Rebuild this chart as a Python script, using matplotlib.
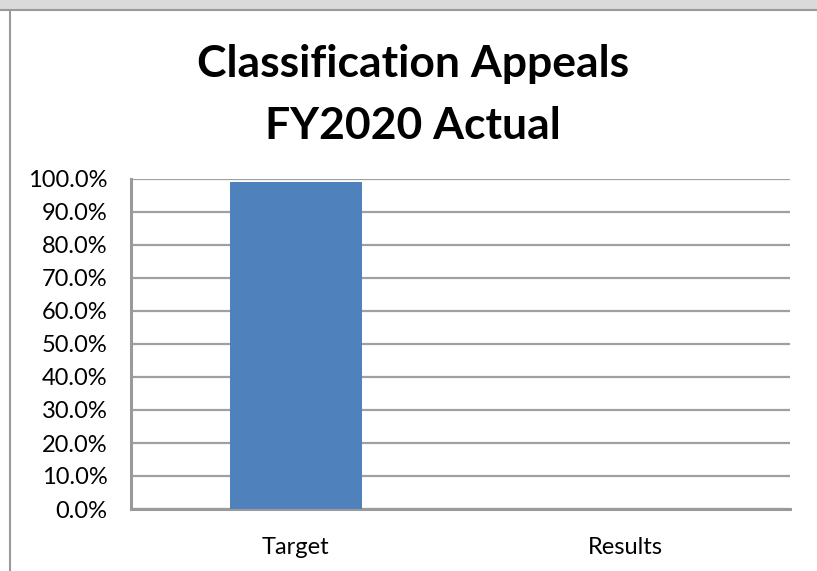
import matplotlib
matplotlib.use("Agg")
import matplotlib.pyplot as plt
from matplotlib.patches import Rectangle
from matplotlib.lines import Line2D
from matplotlib.ticker import FuncFormatter

categories = ["Target", "Results"]
values = [0.99, 0.0]
title = "Classification Appeals\nFY2020 Actual"

plt.rcParams['font.family'] = ['Lato', 'DejaVu Sans']

W, H = 817, 571
fig = plt.figure(figsize=(W / 100, H / 100), dpi=100)

# window chrome: grey band on top, thin border on the left
fig.patches.append(Rectangle((0, 1 - 9 / H), 1, 9 / H, transform=fig.transFigure,
                             facecolor="#dadada", edgecolor="none", zorder=0))
fig.lines.append(Line2D([0, 1], [1 - 9.5 / H] * 2, transform=fig.transFigure,
                        color="#9a9a9a", lw=1.5))
fig.lines.append(Line2D([9.5 / W] * 2, [0, 1 - 9.5 / H], transform=fig.transFigure,
                        color="#9a9a9a", lw=1.5))

left, right, top, bottom = 131, 790, 179, 509
ax = fig.add_axes([left / W, 1 - bottom / H, (right - left) / W, (bottom - top) / H])

x = range(len(categories))
ax.bar(x, values, width=0.4, color="#4f81bd", zorder=3)
ax.set_xlim(-0.5, 1.5)
ax.set_ylim(0, 1.0)
ax.set_yticks([i / 10 for i in range(11)])
ax.yaxis.set_major_formatter(FuncFormatter(lambda v, p: f"{v * 100:.1f}%"))
ax.set_xticks(list(x))
ax.set_xticklabels(categories)
ax.tick_params(axis="y", length=0, labelsize=17, pad=17)
ax.tick_params(axis="x", length=0, labelsize=17, pad=20)
ax.yaxis.grid(True, color="#a0a0a0", lw=1.6, zorder=0)
ax.set_axisbelow(True)
for s in ["top", "right"]:
    ax.spines[s].set_visible(False)
for s in ["left", "bottom"]:
    ax.spines[s].set_color("#9a9a9a")
    ax.spines[s].set_linewidth(2.2)

fig.text(413 / W, 1 - 95 / H, title, ha="center", va="center",
         fontsize=32, fontweight="bold", linespacing=1.65)

fig.savefig("out.png", dpi=100)
